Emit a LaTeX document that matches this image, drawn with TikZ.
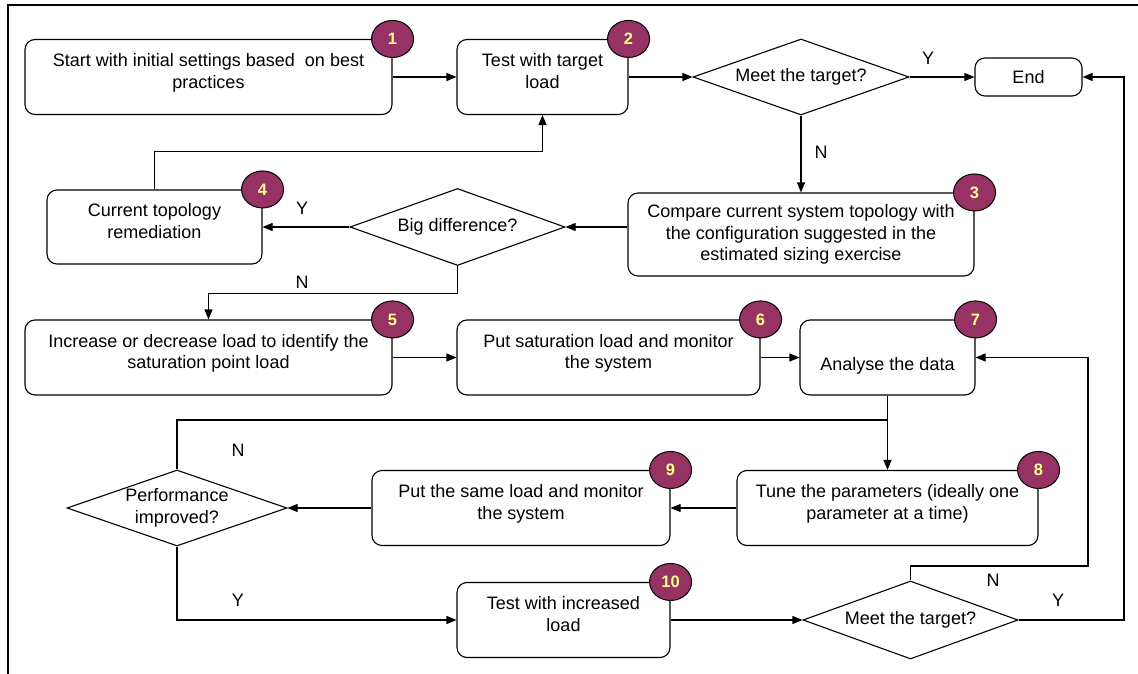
\documentclass[tikz,border=0pt]{standalone}
\usepackage{fontspec}
\setmainfont{Liberation Sans}
\usetikzlibrary{arrows.meta,shapes.geometric}
\definecolor{badgefill}{RGB}{150,50,100}
\definecolor{badgetext}{RGB}{255,255,140}

\begin{document}
\begin{tikzpicture}[
  x=1pt, y=-1pt,
  every node/.style={font=\fontsize{18}{21.5}\selectfont},
  stepbox/.style={draw, rounded corners=10pt, align=center, inner sep=0pt, line width=1.1pt},
  twoline/.style={text height=34.6pt, text depth=11.8pt},
  decision/.style={draw, diamond, aspect=2.8, align=center, inner sep=0pt, line width=1.1pt},
  badge/.style={ellipse, draw, line width=1pt, fill=badgefill, minimum width=42pt, minimum height=37pt,
    inner sep=0pt, text=badgetext, font=\fontsize{16.5}{16.5}\selectfont\bfseries},
  lbl/.style={inner sep=0pt},
  arr/.style={-{Triangle[length=10pt,width=8pt]}, line width=1.1pt},
  link/.style={line width=1.1pt}
]
\useasboundingbox (0,0) rectangle (1138,674);
\draw[line width=1.3pt] (8,674) -- (8,5) -- (1138,5);

% steps
\node[stepbox, twoline, minimum width=367pt, minimum height=75pt] (b1) at (208.5,77) {Start with initial settings based\ \ on best\\practices};
\node[stepbox, twoline, minimum width=171pt, minimum height=75pt] (b2) at (542.5,77) {Test with target\\load};
\node[decision, minimum width=216pt, minimum height=76pt] (dm1) at (801,77) {Meet the target?};
\node[stepbox, minimum width=107pt, minimum height=38pt] (end) at (1028.5,77) {End};
\node[stepbox, minimum width=346pt, minimum height=83pt] (b3) at (801,234.5) {Compare current system topology with\\the configuration suggested in the\\estimated sizing exercise};
\node[decision, minimum width=215pt, minimum height=77pt] (dm2) at (457.5,227) {Big difference?};
\node[stepbox, twoline, minimum width=215pt, minimum height=74pt] (b4) at (154.5,227) {Current topology\\remediation};
\node[stepbox, twoline, minimum width=367pt, minimum height=75pt] (b5) at (208.5,357.5) {Increase or decrease load to identify the\\saturation point load};
\node[stepbox, twoline, minimum width=303pt, minimum height=75pt] (b6) at (608.5,357.5) {Put saturation load and monitor\\the system};
\node[stepbox, text height=29pt, text depth=4pt, minimum width=175pt, minimum height=75pt] (b7) at (887.5,357.5) {Analyse the data};
\node[stepbox, twoline, minimum width=301pt, minimum height=75pt] (b8) at (887.5,508) {Tune the parameters (ideally one\\parameter at a time)};
\node[stepbox, twoline, minimum width=298pt, minimum height=75pt] (b9) at (521,508) {Put the same load and monitor\\the system};
\node[decision, minimum width=220pt, minimum height=76pt] (dm4) at (177,508) {Performance\\improved?};
\node[stepbox, twoline, minimum width=213pt, minimum height=75pt] (b10) at (563.5,620) {Test with increased\\load};
\node[decision, minimum width=215pt, minimum height=78pt] (dm3) at (910.5,620) {Meet the target?};

\coordinate (j) at (887.5,420);
\coordinate (rtN) at (1088,566);
\coordinate (rtY) at (1124,620);

% connectors
\draw[arr] (b1) -- (b2);
\draw[arr] (b2) -- (dm1);
\draw[arr] (dm1) -- (end);
\draw[arr] (dm1) -- (b3);
\draw[arr] (b3.west |- dm2) -- (dm2);
\draw[arr] (dm2) -- (b4);
\draw[arr] (b4.north) -- ++(0,-38) -| (b2.south);
\draw[arr] (dm2.south) -- ++(0,27) -| (b5.north);
\draw[arr] (b5) -- (b6);
\draw[arr] (b6) -- (b7);
\draw[arr] (b7) -- (b8);
\draw[link] (dm4.north) |- (j);
\draw[arr] (b8) -- (b9);
\draw[arr] (b9) -- (dm4);
\draw[arr] (dm4.south) |- (b10.west);
\draw[arr] (b10) -- (dm3);
\draw[arr] (dm3.east) -- (rtY) |- (end.east);
\draw[arr] (dm3.north) |- (rtN) |- (b7.east);

% Y / N
\foreach \x/\y/\t [count=\i] in {928/58/Y, 821/152/N, 302/208/Y, 302/282/N,
  238/450/N, 238/600/Y, 993/580/N, 1058/600/Y}
  \node[lbl] (a\i) at (\x,\y) {\t};

% numbers
\foreach \b/\n in {b1/1, b2/2, b3/3, b4/4, b5/5, b6/6, b7/7, b8/8, b9/9, b10/10}
  \node[badge] (n\n) at (\b.north east) {\n};
\end{tikzpicture}
\end{document}
